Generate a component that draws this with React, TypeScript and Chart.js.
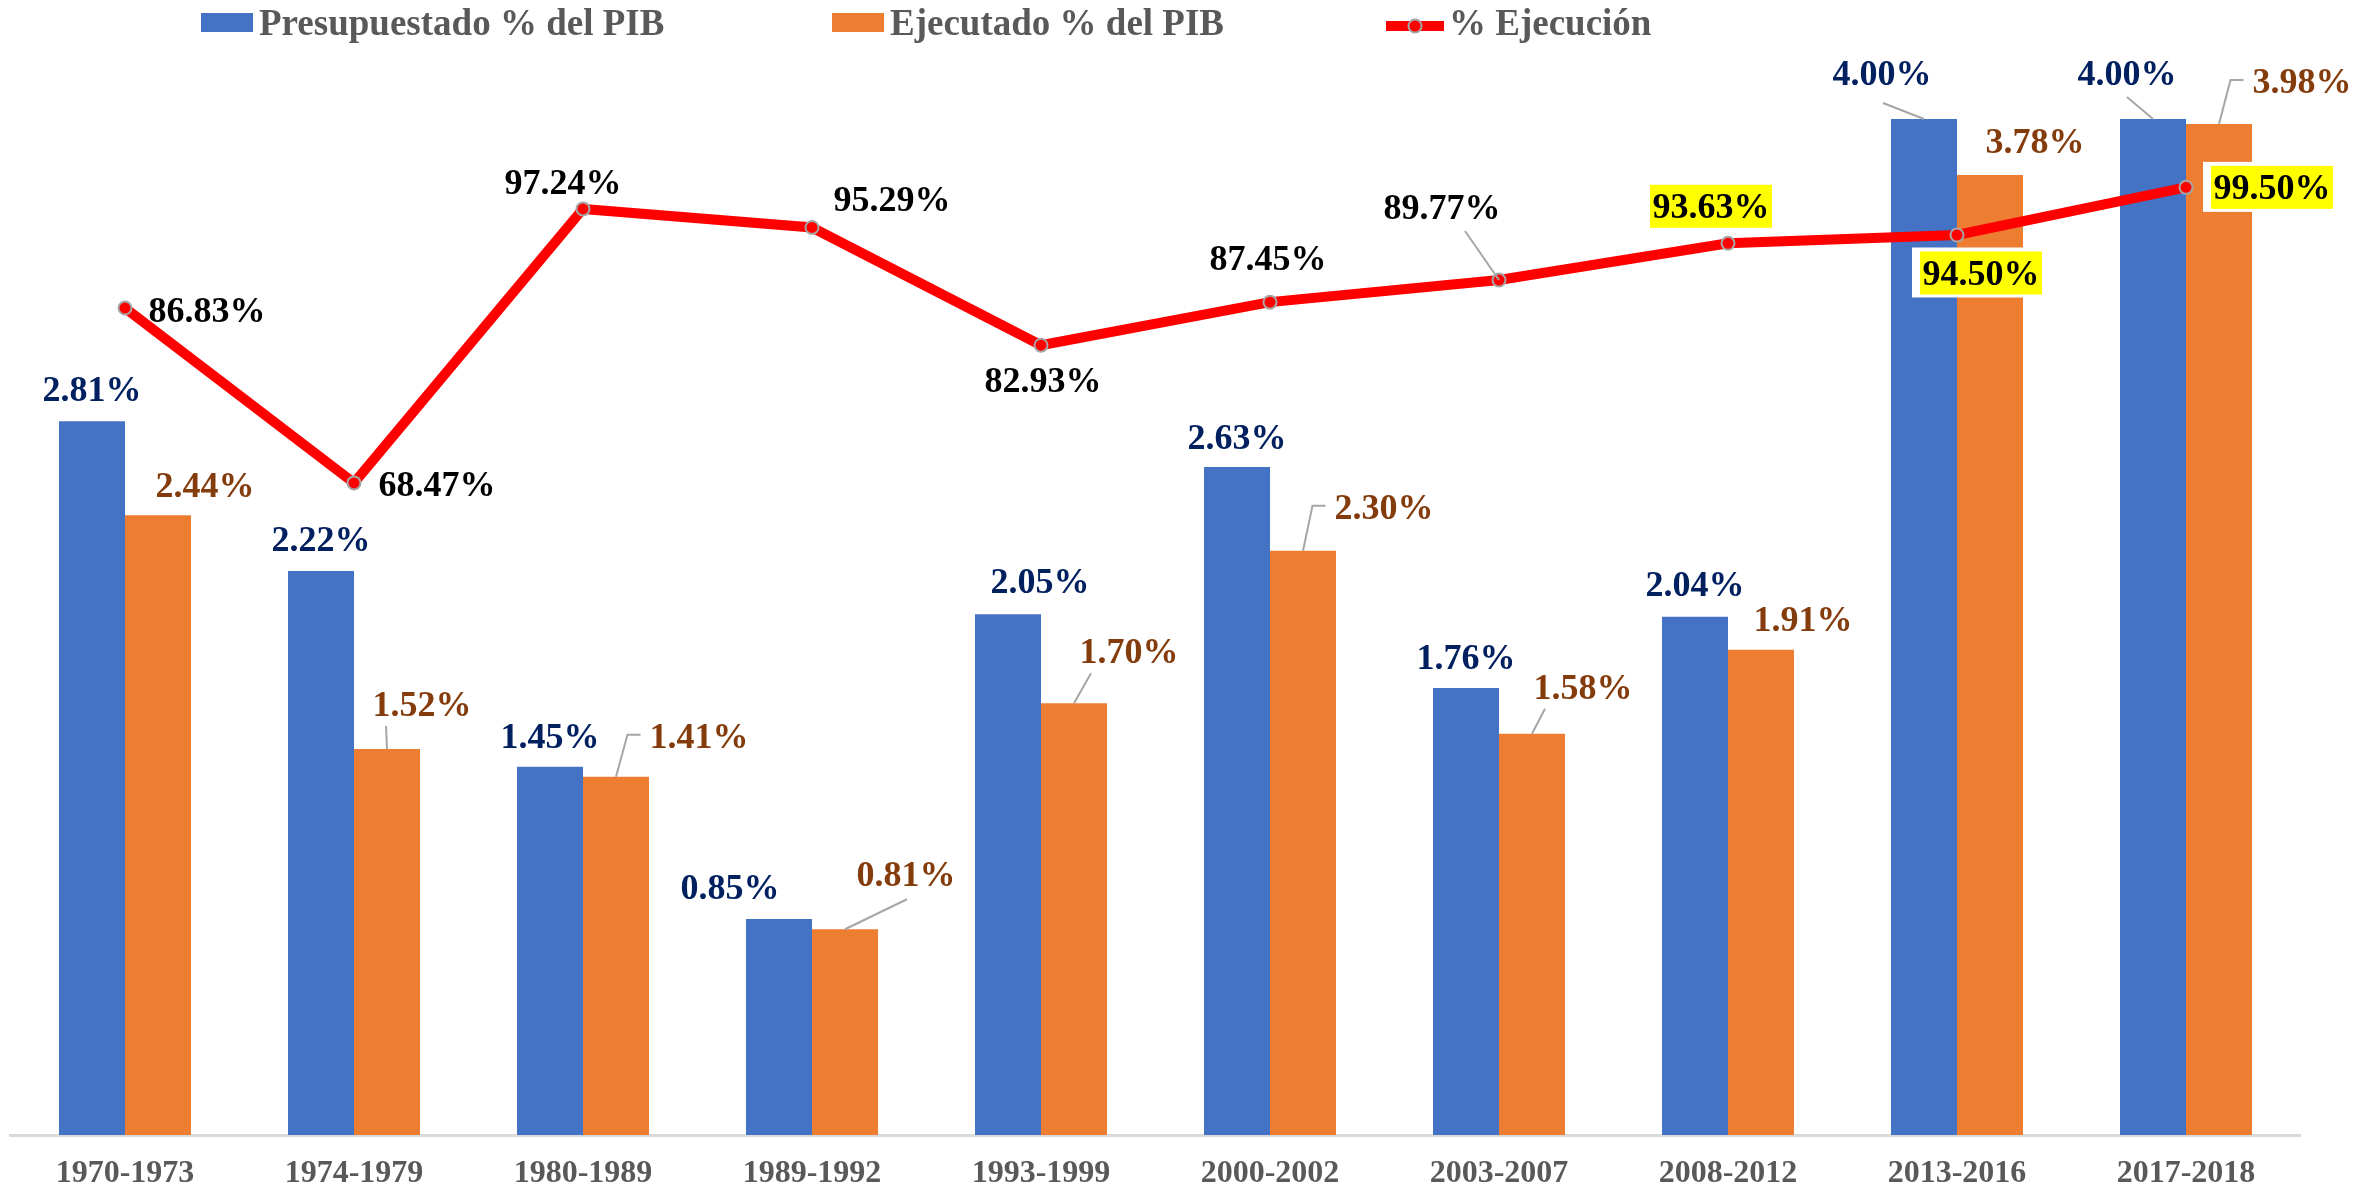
import React, { useEffect, useRef } from "react";
import { Chart, registerables } from "chart.js";

Chart.register(...registerables);

// ---------- data ----------
const categories = [
  "1970-1973", "1974-1979", "1980-1989", "1989-1992", "1993-1999",
  "2000-2002", "2003-2007", "2008-2012", "2013-2016", "2017-2018",
];
const presupuestado = [2.81, 2.22, 1.45, 0.85, 2.05, 2.63, 1.76, 2.04, 4.0, 4.0];
const ejecutado = [2.44, 1.52, 1.41, 0.81, 1.7, 2.3, 1.58, 1.91, 3.78, 3.98];
const ejecucion = [86.83, 68.47, 97.24, 95.29, 82.93, 87.45, 89.77, 93.63, 94.5, 99.5];
const seriesNames = ["Presupuestado % del PIB", "Ejecutado % del PIB", "% Ejecución"];

// ---------- styles ----------
const BLUE = "#4472C4";
const ORANGE = "#ED7D31";
const RED = "#FF0000";
const NAVY = "#002060";
const BROWN = "#843C0C";
const GREY_TXT = "#595959";
const LEADER = "#A6A6A6";
const FONT = '"Liberation Serif", "Times New Roman", serif';

type Lab = {
  dx: number; dy: number;
  leader?: "line" | "elbow";
  ex?: number; ey?: number;
  hl?: boolean; box?: boolean;
};

// label offsets relative to the anchor (bar top centre / line point)
const blueLabelPos: Lab[] = [
  { dx: 0, dy: -32 }, { dx: 0, dy: -32 }, { dx: 0, dy: -31 }, { dx: -49, dy: -32 },
  { dx: 32, dy: -33 }, { dx: 0, dy: -30 }, { dx: 0, dy: -31 }, { dx: 0, dy: -33 },
  { dx: -42, dy: -46, leader: "line", ex: 1, ey: 30 },
  { dx: -26, dy: -46, leader: "line", ex: 0, ey: 24 },
];
const orangeLabelPos: Lab[] = [
  { dx: 47, dy: -30 },
  { dx: 35, dy: -45, leader: "line", ex: -36, ey: 22 },
  { dx: 83, dy: -41, leader: "elbow" },
  { dx: 61, dy: -55, leader: "line", ex: 1, ey: 25 },
  { dx: 55, dy: -52, leader: "line", ex: -38, ey: 22 },
  { dx: 81, dy: -44, leader: "elbow" },
  { dx: 51, dy: -47, leader: "line", ex: -38, ey: 22 },
  { dx: 42, dy: -31 },
  { dx: 45, dy: -34 },
  { dx: 83, dy: -43, leader: "elbow" },
];
const lineLabelPos: Lab[] = [
  { dx: 82, dy: 2 }, { dx: 83, dy: 1 }, { dx: -20, dy: -27 }, { dx: 80, dy: -28 },
  { dx: 2, dy: 35 }, { dx: -2, dy: -44 },
  { dx: -57, dy: -73, leader: "line", ex: 23, ey: 24 },
  { dx: -17, dy: -37, hl: true },
  { dx: 24, dy: 38, hl: true, box: true },
  { dx: 86, dy: 0, hl: true, box: true },
];

const labelPlugin = {
  id: "customLabels",
  afterDatasetsDraw(chart: any) {
    const ctx: CanvasRenderingContext2D = chart.ctx;
    const groups = [
      { ds: 0, pos: blueLabelPos, color: NAVY },
      { ds: 1, pos: orangeLabelPos, color: BROWN },
      { ds: 2, pos: lineLabelPos, color: "#000000" },
    ];
    ctx.save();
    ctx.font = `bold 36px ${FONT}`;
    for (const g of groups) {
      const meta = chart.getDatasetMeta(g.ds);
      const values = chart.data.datasets[g.ds].data as number[];
      meta.data.forEach((el: any, i: number) => {
        const p = g.pos[i];
        const text = values[i].toFixed(2) + "%";
        const w = ctx.measureText(text).width;
        const cx = el.x + p.dx;
        const cy = el.y + p.dy;
        const left = cx - w / 2;
        ctx.strokeStyle = LEADER;
        ctx.lineWidth = 2;
        if (p.leader === "line") {
          ctx.beginPath();
          ctx.moveTo(el.x, el.y);
          ctx.lineTo(cx + (p.ex || 0), cy + (p.ey || 0));
          ctx.stroke();
        } else if (p.leader === "elbow") {
          ctx.beginPath();
          ctx.moveTo(el.x, el.y);
          ctx.lineTo(left - 22, cy - 1);
          ctx.lineTo(left - 9, cy - 1);
          ctx.stroke();
        }
        if (p.box) {
          ctx.fillStyle = "#FFFFFF";
          ctx.fillRect(left - 10.5, cy - 25.5, w + 13, 50);
        }
        if (p.hl) {
          ctx.fillStyle = "#FFFF00";
          ctx.fillRect(left - 2.5, cy - 21.5, w + 5, 43);
        }
        ctx.fillStyle = g.color;
        ctx.textAlign = "center";
        ctx.textBaseline = "alphabetic";
        ctx.fillText(text, cx, cy + 12);
      });
    }
    ctx.restore();
  },
  afterDraw(chart: any) {
    // legend
    const ctx: CanvasRenderingContext2D = chart.ctx;
    ctx.save();
    ctx.font = `bold 37px ${FONT}`;
    ctx.textAlign = "left";
    ctx.textBaseline = "alphabetic";
    ctx.fillStyle = BLUE;
    ctx.fillRect(201, 13, 52, 19);
    ctx.fillStyle = GREY_TXT;
    ctx.fillText(seriesNames[0], 259, 35);
    ctx.fillStyle = ORANGE;
    ctx.fillRect(832, 13, 52, 19);
    ctx.fillStyle = GREY_TXT;
    ctx.fillText(seriesNames[1], 890, 35);
    ctx.strokeStyle = RED;
    ctx.lineWidth = 10;
    ctx.beginPath();
    ctx.moveTo(1386, 26);
    ctx.lineTo(1444, 26);
    ctx.stroke();
    ctx.beginPath();
    ctx.arc(1415, 26, 6.5, 0, Math.PI * 2);
    ctx.fillStyle = RED;
    ctx.fill();
    ctx.lineWidth = 2;
    ctx.strokeStyle = LEADER;
    ctx.stroke();
    ctx.fillStyle = GREY_TXT;
    ctx.fillText(seriesNames[2], 1449, 35);
    ctx.restore();
  },
};

export default function App() {
  const ref = useRef<HTMLCanvasElement | null>(null);
  useEffect(() => {
    if (!ref.current) return;
    const chart = new Chart(ref.current, {
      type: "bar",
      data: {
        labels: categories,
        datasets: [
          {
            type: "bar",
            label: seriesNames[0],
            data: presupuestado,
            backgroundColor: BLUE,
            yAxisID: "y",
            order: 2,
            categoryPercentage: 0.5764,
            barPercentage: 1,
          },
          {
            type: "bar",
            label: seriesNames[1],
            data: ejecutado,
            backgroundColor: ORANGE,
            yAxisID: "y",
            order: 2,
            categoryPercentage: 0.5764,
            barPercentage: 1,
          },
          {
            type: "line",
            label: seriesNames[2],
            data: ejecucion,
            borderColor: RED,
            backgroundColor: RED,
            borderWidth: 10,
            pointRadius: 6.5,
            pointBackgroundColor: RED,
            pointBorderColor: LEADER,
            pointBorderWidth: 2,
            tension: 0,
            yAxisID: "y1",
            order: 1,
          } as any,
        ],
      },
      options: {
        responsive: false,
        animation: false,
        devicePixelRatio: 1,
        layout: { padding: { left: 10.5, right: 79.5, top: 42.8, bottom: 0 } },
        plugins: {
          legend: { display: false },
          tooltip: { enabled: false },
        },
        scales: {
          x: {
            grid: { display: false, drawTicks: false },
            border: { display: true, color: "#D9D9D9", width: 3 },
            ticks: {
              color: GREY_TXT,
              font: { family: FONT, size: 32, weight: "bold" },
              padding: 20,
              maxRotation: 0,
              autoSkip: false,
            },
            afterFit: (s: any) => {
              s.height = 55;
            },
          },
          y: { display: false, min: 0, max: 4.3 },
          y1: { display: false, min: 0, max: 114.68, position: "right" },
        },
      } as any,
      plugins: [labelPlugin],
    });
    return () => chart.destroy();
  }, []);
  return (
    <div style={{ position: "fixed", left: 0, top: 0, width: 2380, height: 1190, background: "#ffffff" }}>
      <canvas ref={ref} width={2380} height={1190} style={{ display: "block" }} />
    </div>
  );
}
